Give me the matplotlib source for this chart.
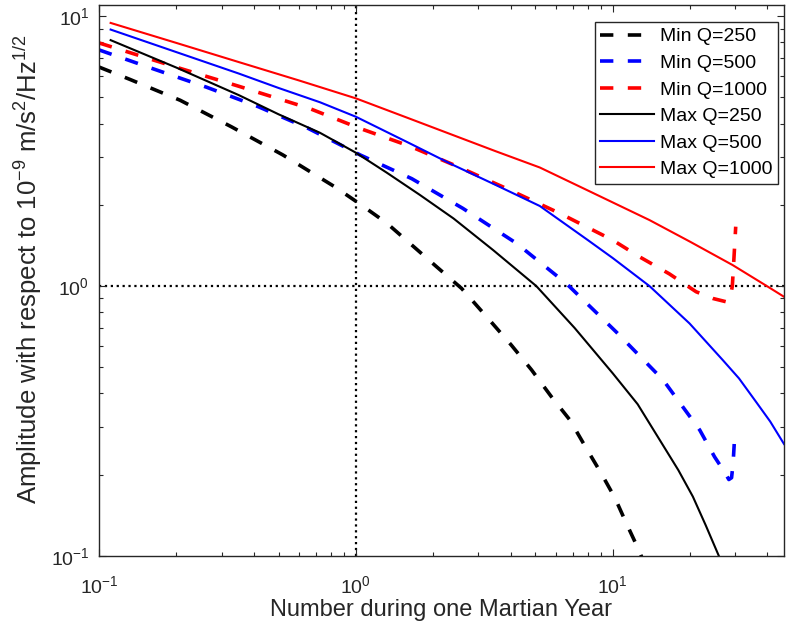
import matplotlib
matplotlib.use("Agg")
import matplotlib.pyplot as plt

plt.rcParams['font.family'] = ['Liberation Sans', 'DejaVu Sans']
plt.rcParams['mathtext.fontset'] = 'custom'
plt.rcParams['mathtext.rm'] = 'Liberation Sans'
plt.rcParams['mathtext.it'] = 'Liberation Sans'
plt.rcParams['mathtext.bf'] = 'Liberation Sans'
plt.rcParams['mathtext.default'] = 'regular'

# ---- data ----
x_min250 = [0.1, 0.132, 0.207, 0.328, 0.52, 0.829, 1.04, 1.32, 1.65, 2.06, 2.58, 3.27,
            4.03, 4.83, 5.77, 6.81, 7.9, 9.0, 10.2, 11.3, 12.7, 13.6]
y_min250 = [6.48, 5.83, 4.88, 3.89, 3.06, 2.33, 2.01, 1.71, 1.42, 1.18, 0.98, 0.759,
            0.604, 0.489, 0.389, 0.319, 0.25, 0.203, 0.164, 0.132, 0.104, 0.088]

x_min500 = [0.1, 0.165, 0.263, 0.417, 0.652, 1.04, 1.65, 2.61, 4.22, 6.61, 10.3, 15.7,
            21.8, 24.9, 27.2, 28.3, 29.0, 29.4, 29.7]
y_min500 = [7.5, 6.35, 5.45, 4.62, 3.84, 3.06, 2.50, 1.94, 1.44, 1.02, 0.677, 0.449,
            0.293, 0.233, 0.205, 0.192, 0.195, 0.22, 0.26]

x_min1000 = [0.1, 0.2, 0.35, 0.66, 1.036, 1.62, 2.54, 3.97, 6.22, 10.0, 12.7, 16.6,
             21.1, 24.5, 27.6, 28.6, 29.2, 29.6, 30.1]
y_min1000 = [7.96, 6.47, 5.5, 4.55, 3.84, 3.30, 2.75, 2.27, 1.86, 1.48, 1.284, 1.11,
             0.953, 0.90, 0.875, 0.90, 1.0, 1.25, 1.66]

x_max250 = [0.111, 0.2, 0.35, 0.5, 0.724, 1.0, 1.32, 1.77, 2.4, 3.42, 5.04, 7.1, 10.0,
            12.5, 15.2, 18.0, 20.5, 23.0, 26.0]
y_max250 = [8.15, 6.45, 5.10, 4.33, 3.70, 3.12, 2.63, 2.18, 1.78, 1.36, 1.0, 0.70, 0.475,
            0.365, 0.27, 0.208, 0.166, 0.13, 0.099]

x_max500 = [0.111, 0.2, 0.35, 0.5, 0.724, 1.0, 1.6, 2.39, 3.5, 5.2, 8.0, 10.0, 13.9,
            19.9, 26.8, 31.0, 36.3, 41.0, 46.4]
y_max500 = [8.92, 7.36, 6.13, 5.42, 4.80, 4.24, 3.40, 2.81, 2.37, 1.98, 1.48, 1.27, 1.0,
            0.727, 0.532, 0.455, 0.37, 0.315, 0.26]

x_max1000 = [0.111, 0.2, 0.35, 0.6, 1.0, 1.6, 2.4, 3.5, 5.2, 8.0, 13.9, 20.0, 29.3,
             39.8, 46.4]
y_max1000 = [9.44, 7.96, 6.76, 5.78, 4.96, 4.19, 3.62, 3.16, 2.75, 2.26, 1.756, 1.46,
             1.196, 1.0, 0.913]

labels = ["Min Q=250", "Min Q=500", "Min Q=1000", "Max Q=250", "Max Q=500", "Max Q=1000"]
colors = ["black", "blue", "red", "black", "blue", "red"]

xlim = (0.1, 46.4)
ylim = (0.1, 11.0)
tick_vals = [0.1, 1, 10]
tick_labels = ['$10^{-1}$', '$10^{0}$', '$10^{1}$']

# ---- figure ----
fig = plt.figure(figsize=(7.86, 6.34), dpi=100)
ax = fig.add_axes([99 / 786, 78 / 634, 685 / 786, 551 / 634])

axc = '#262626'
dash = (0, (3.7, 4.0))

series = [(x_min250, y_min250), (x_min500, y_min500), (x_min1000, y_min1000),
          (x_max250, y_max250), (x_max500, y_max500), (x_max1000, y_max1000)]
for i, ((xs, ys), lab, c) in enumerate(zip(series, labels, colors)):
    if i < 3:
        ax.plot(xs, ys, color=c, lw=2.6, linestyle=dash, dash_capstyle='butt', label=lab)
    else:
        ax.plot(xs, ys, color=c, lw=1.5, linestyle='-', label=lab)

ax.axvline(1.0, color='black', lw=1.6, linestyle=':', zorder=1)
ax.axhline(1.0, color='black', lw=1.6, linestyle=':', zorder=1)

ax.set_xscale('log')
ax.set_yscale('log')
ax.set_xlim(*xlim)
ax.set_ylim(*ylim)

ax.set_xticks(tick_vals)
ax.set_xticklabels(tick_labels)
ax.set_yticks(tick_vals)
ax.set_yticklabels(tick_labels)

ax.tick_params(which='both', direction='in', top=True, right=True, colors=axc,
               labelsize=14)
ax.tick_params(axis='x', which='major', pad=14)
ax.tick_params(axis='y', which='major', pad=7)
ax.tick_params(which='major', length=5, width=0.8)
ax.tick_params(which='minor', length=3, width=0.8)
for s in ax.spines.values():
    s.set_color(axc)
    s.set_linewidth(1.0)

ax.set_xlabel('Number during one Martian Year', fontsize=17, color=axc, labelpad=1)
ax.set_ylabel('Amplitude with respect to $10^{-9}$ m/s$^{2}$/Hz$^{1/2}$', fontsize=18.5,
              color=axc)
ax.yaxis.set_label_coords(-0.08, 0.52)

leg = ax.legend(loc='upper right', bbox_to_anchor=(1 - 6 / 685, 1 - 17 / 551),
                fontsize=14, frameon=True, fancybox=False, framealpha=1,
                handlelength=2.75, handletextpad=0.3, labelspacing=0.46,
                borderpad=0.3, borderaxespad=0)
leg.get_frame().set_edgecolor(axc)
leg.get_frame().set_linewidth(1.0)

fig.savefig('out.png', dpi=100)
